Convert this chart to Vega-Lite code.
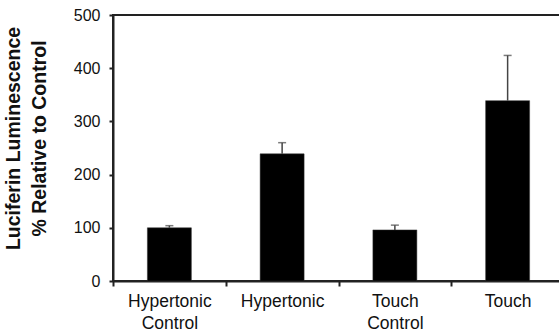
{
  "$schema": "https://vega.github.io/schema/vega-lite/v6.json",
  "width": 451,
  "height": 266,
  "autosize": "none",
  "padding": {"left": 113, "top": 15, "right": 0, "bottom": 50},
  "background": "white",
  "config": {
    "view": {"stroke": "#222", "strokeWidth": 2},
    "font": "Liberation Sans"
  },
  "data": {
    "values": [
      {"label": "Hypertonic|Control", "value": 100, "err": 4},
      {"label": "Hypertonic", "value": 239, "err": 21},
      {"label": "Touch|Control", "value": 96, "err": 9},
      {"label": "Touch", "value": 339, "err": 85}
    ]
  },
  "encoding": {
    "x": {
      "field": "label",
      "type": "nominal",
      "sort": null,
      "scale": {"paddingInner": 0, "paddingOuter": 0},
      "axis": {
        "title": null,
        "labelAngle": 0,
        "labelExpr": "split(datum.label, '|')",
        "labelFont": "Liberation Sans",
        "labelFontSize": 17.5,
        "labelColor": "#111",
        "labelLineHeight": 22,
        "labelPadding": 6,
        "tickBand": "extent",
        "tickSize": 5,
        "tickWidth": 2,
        "tickColor": "#222",
        "domainColor": "#222",
        "domainWidth": 2,
        "labelBaseline": "top"
      }
    }
  },
  "layer": [
    {
      "mark": {"type": "bar", "color": "black", "stroke": "#333", "strokeWidth": 0.5, "width": {"band": 0.39}},
      "encoding": {
        "y": {
          "field": "value",
          "type": "quantitative",
          "scale": {"domain": [0, 500], "nice": false},
          "axis": {
            "values": [0, 100, 200, 300, 400, 500],
            "grid": false,
            "title": ["Luciferin Luminescence", "% Relative to Control"],
            "titleFont": "Liberation Sans",
            "titleFontWeight": "bold",
            "titleFontSize": 19.5,
            "titleColor": "#111",
            "titleLineHeight": 26,
            "titleX": -90,
            "titleY": 123,
            "titleAngle": -90,
            "titleAlign": "center",
            "titleBaseline": "bottom",
            "labelFont": "Liberation Sans",
            "labelFontSize": 16,
            "labelColor": "#111",
            "labelPadding": 9,
            "tickSize": 4,
            "tickWidth": 2,
            "tickColor": "#222",
            "domainColor": "#222",
            "domainWidth": 2
          }
        }
      }
    },
    {
      "transform": [{"calculate": "datum.value + datum.err", "as": "upper"}],
      "mark": {"type": "rule", "color": "#444", "strokeWidth": 1.5},
      "encoding": {
        "y": {"field": "value", "type": "quantitative"},
        "y2": {"field": "upper"}
      }
    },
    {
      "transform": [{"calculate": "datum.value + datum.err", "as": "upper"}],
      "mark": {"type": "tick", "color": "#444", "size": 8, "thickness": 1.5, "orient": "horizontal"},
      "encoding": {
        "y": {"field": "upper", "type": "quantitative"}
      }
    }
  ]
}
